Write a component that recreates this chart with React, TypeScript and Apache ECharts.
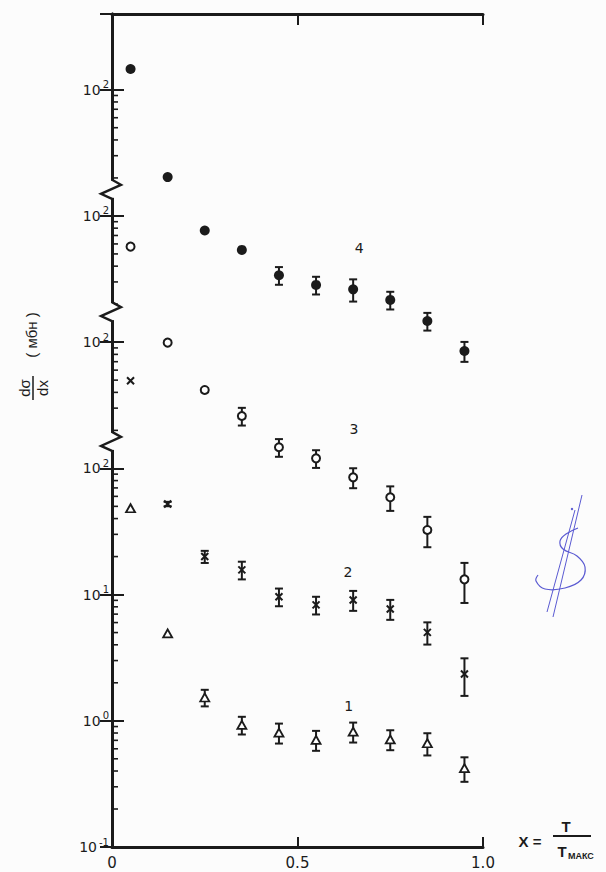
import React, { useEffect, useRef } from "react";
import * as echarts from "echarts";

// ---- data (values as plotted on the continuous, shifted log axis) ----
const xCenters = [0.05, 0.15, 0.25, 0.35, 0.45, 0.55, 0.65, 0.75, 0.85, 0.95];

const curve1 = [48.3, 4.93, 1.53, 0.927, 0.805, 0.705, 0.82, 0.713, 0.664, 0.421];
const curve1Err = [0, 0, 0.15, 0.16, 0.18, 0.18, 0.18, 0.18, 0.2, 0.22];
const curve2 = [495, 52.2, 20.0, 15.7, 9.62, 8.28, 9.06, 7.69, 5.02, 2.35];
const curve2Err = [0, 0.04, 0.11, 0.16, 0.16, 0.16, 0.18, 0.18, 0.2, 0.33];
const curve3 = [5710, 991, 418, 260, 147, 120, 84.9, 59.0, 32.5, 13.2];
const curve3Err = [0, 0, 0, 0.16, 0.16, 0.16, 0.18, 0.22, 0.27, 0.35];
const curve4 = [146000, 20300, 7660, 5380, 3390, 2840, 2620, 2160, 1470, 851];
const curve4Err = [0, 0, 0, 0, 0.16, 0.16, 0.2, 0.16, 0.16, 0.18];

const curveNames = ["1", "2", "3", "4"];
const curveLabelX = [0.638, 0.636, 0.652, 0.666];
const curveLabelY = [1.31, 15.1, 205, 5570];

const xTickLabels = ["0", "0.5", "1.0"];
const yTickExponents = ["-1", "0", "1", "2", "2", "2", "2"]; // decades -1 .. 5
const breakValues = [162, 1730, 16100];
const yMin = 0.1;
const yMax = 398000;
const minorTickTop = 100000;

const INK = "#1b1b1b";
const FONT = "Liberation Sans";
const TICKFONT = "DejaVu Sans";

function minorTickValues(): number[] {
  const out: number[] = [];
  for (let d = -1; d <= 5; d++) {
    for (let m = 2; m <= 9; m++) {
      const v = m * Math.pow(10, d);
      if (v < minorTickTop) out.push(v);
    }
  }
  return out;
}

function errData(vals: number[], errs: number[]) {
  const out: number[][] = [];
  vals.forEach((v, i) => {
    if (errs[i] > 0) out.push([xCenters[i], v * (1 - errs[i]), v * (1 + errs[i])]);
  });
  return out;
}

function errSeries(vals: number[], errs: number[]) {
  return {
    type: "custom",
    silent: true,
    z: 2,
    clip: false,
    encode: { x: 0, y: [1, 2] },
    renderItem: (params: any, api: any) => {
      const x = api.value(0);
      const pLo = api.coord([x, api.value(1)]);
      const pHi = api.coord([x, api.value(2)]);
      const c = 4;
      const st = { stroke: INK, lineWidth: 2 };
      return {
        type: "group",
        children: [
          { type: "line", shape: { x1: pLo[0], y1: pLo[1], x2: pHi[0], y2: pHi[1] }, style: st },
          { type: "line", shape: { x1: pLo[0] - c, y1: pLo[1], x2: pLo[0] + c, y2: pLo[1] }, style: st },
          { type: "line", shape: { x1: pHi[0] - c, y1: pHi[1], x2: pHi[0] + c, y2: pHi[1] }, style: st },
        ],
      };
    },
    data: errData(vals, errs),
  };
}

function pts(vals: number[]) {
  return vals.map((v, i) => [xCenters[i], v]);
}

const centered = { align: "center", verticalAlign: "middle", textAlign: "center", textVerticalAlign: "middle" };

export default function App() {
  const ref = useRef<HTMLDivElement>(null);

  useEffect(() => {
    if (!ref.current) return;
    const chart = echarts.init(ref.current, undefined, { renderer: "svg" });

    const logAxisBase = {
      type: "log",
      logBase: 10,
      min: yMin,
      max: yMax,
      splitNumber: 6,
      splitLine: { show: false },
      axisLine: { show: true, lineStyle: { color: INK, width: 3 } },
    };

    const option: any = {
      animation: false,
      backgroundColor: "#fcfcfc",
      textStyle: { fontFamily: FONT },
      grid: { left: 112, right: 123, top: 14, bottom: 25, containLabel: false },
      xAxis: [
        {
          type: "value",
          position: "bottom",
          min: 0,
          max: 1,
          interval: 0.5,
          splitLine: { show: false },
          axisLine: { show: true, onZero: false, lineStyle: { color: INK, width: 3 } },
          axisTick: { show: true, inside: true, length: 10, lineStyle: { color: INK, width: 2 } },
          axisLabel: {
            show: true,
            margin: 8,
            fontSize: 15,
            color: INK,
            fontFamily: TICKFONT,
            formatter: (v: number) => {
              const i = Math.round(v / 0.5);
              return xTickLabels[i] ?? "";
            },
          },
        },
        {
          type: "value",
          position: "top",
          min: 0,
          max: 1,
          interval: 0.5,
          splitLine: { show: false },
          axisLine: { show: true, onZero: false, lineStyle: { color: INK, width: 3 } },
          axisTick: { show: true, inside: true, length: 11, lineStyle: { color: INK, width: 2 } },
          axisLabel: { show: false },
        },
      ],
      yAxis: [
        {
          ...logAxisBase,
          position: "left",
          axisTick: { show: true, inside: true, length: 12, lineStyle: { color: INK, width: 2 } },
          axisLabel: {
            show: true,
            margin: 3,
            color: INK,
            formatter: (v: number) => {
              const l = Math.log10(v);
              const r = Math.round(l);
              if (Math.abs(l - r) > 1e-6) return "";
              const e = yTickExponents[r + 1];
              if (e === undefined) return "";
              return `{b|10}{s|${e}}`;
            },
            rich: {
              b: { fontSize: 14, lineHeight: 20, color: INK, fontFamily: TICKFONT },
              s: { fontSize: 10, verticalAlign: "top", color: INK, fontFamily: TICKFONT, padding: [0, 0, 0, 2] },
            },
          },
        },
        {
          ...logAxisBase,
          position: "right",
          axisTick: { show: true, inside: true, length: 12, lineStyle: { color: INK, width: 2 } },
          axisLabel: { show: false },
        },
      ],
      series: [
        // minor log ticks on left axis
        {
          type: "custom",
          silent: true,
          clip: false,
          z: 1,
          encode: { x: 0, y: 1 },
          renderItem: (params: any, api: any) => {
            const p = api.coord([0, api.value(1)]);
            return {
              type: "line",
              shape: { x1: p[0], y1: p[1], x2: p[0] + 6, y2: p[1] },
              style: { stroke: INK, lineWidth: 1.6 },
            };
          },
          data: minorTickValues().map((v) => [0, v]),
        },
        // axis breaks
        {
          type: "custom",
          silent: true,
          clip: false,
          z: 5,
          encode: { x: 0, y: 1 },
          renderItem: (params: any, api: any) => {
            const p = api.coord([0, api.value(1)]);
            const ax = p[0];
            const y = p[1];
            return {
              type: "group",
              children: [
                { type: "rect", shape: { x: ax - 2.5, y: y - 9, width: 5, height: 17 }, style: { fill: "#fcfcfc" } },
                {
                  type: "polyline",
                  shape: { points: [[ax, y - 10], [ax + 9, y - 5], [ax - 11, y + 4], [ax, y + 9]] },
                  style: { stroke: INK, lineWidth: 2.4, fill: "none" },
                },
              ],
            };
          },
          data: breakValues.map((v) => [0, v]),
        },
        errSeries(curve1, curve1Err),
        errSeries(curve2, curve2Err),
        errSeries(curve3, curve3Err),
        errSeries(curve4, curve4Err),
        {
          type: "scatter",
          z: 4,
          silent: true,
          symbol: "triangle",
          symbolSize: [9, 8],
          itemStyle: { color: "#ffffff", borderColor: INK, borderWidth: 1.8, opacity: 1 },
          data: pts(curve1),
        },
        {
          type: "scatter",
          z: 4,
          silent: true,
          symbol: "path://M0,0L10,10M10,0L0,10",
          symbolSize: 7,
          itemStyle: { color: "rgba(0,0,0,0)", borderColor: INK, borderWidth: 2, opacity: 1 },
          data: pts(curve2),
        },
        {
          type: "scatter",
          z: 4,
          silent: true,
          symbol: "circle",
          symbolSize: 8,
          itemStyle: { color: "#ffffff", borderColor: INK, borderWidth: 2, opacity: 1 },
          data: pts(curve3),
        },
        {
          type: "scatter",
          z: 4,
          silent: true,
          symbol: "circle",
          symbolSize: 10,
          itemStyle: { color: INK, opacity: 1 },
          data: pts(curve4),
        },
        // curve number labels
        {
          type: "custom",
          silent: true,
          z: 4,
          encode: { x: 0, y: 1 },
          renderItem: (params: any, api: any) => {
            const p = api.coord([api.value(0), api.value(1)]);
            return {
              type: "text",
              x: p[0],
              y: p[1],
              style: {
                text: curveNames[params.dataIndex],
                fontSize: 14,
                fill: INK,
                fontFamily: TICKFONT,
                ...centered,
              },
            };
          },
          data: curveNames.map((n, i) => [curveLabelX[i], curveLabelY[i]]),
        },
      ],
      graphic: [
        {
          type: "group",
          x: 33,
          y: 355,
          rotation: Math.PI / 2,
          children: [
            {
              type: "text",
              x: -33,
              y: -9,
              style: { text: "dσ", fontSize: 15, fill: INK, fontFamily: FONT, ...centered },
            },
            {
              type: "line",
              shape: { x1: -45, y1: 0, x2: -21, y2: 0 },
              style: { stroke: INK, lineWidth: 1.5 },
            },
            {
              type: "text",
              x: -33,
              y: 9,
              style: { text: "dx", fontSize: 15, fill: INK, fontFamily: FONT, ...centered },
            },
            {
              type: "text",
              x: 20,
              y: -2,
              style: { text: "( мбн )", fontSize: 15, fill: INK, fontFamily: FONT, ...centered },
            },
          ],
        },
        {
          type: "text",
          x: 530,
          y: 841,
          style: { text: "X =", fontSize: 15, fill: INK, fontFamily: FONT, fontWeight: "bold", ...centered },
        },
        {
          type: "text",
          x: 566,
          y: 826,
          style: { text: "T", fontSize: 15, fill: INK, fontFamily: FONT, fontWeight: "bold", ...centered },
        },
        {
          type: "line",
          shape: { x1: 553, y1: 836, x2: 591, y2: 836 },
          style: { stroke: INK, lineWidth: 1.8 },
        },
        {
          type: "text",
          x: 562,
          y: 851,
          style: { text: "T", fontSize: 15, fill: INK, fontFamily: FONT, fontWeight: "bold", ...centered },
        },
        {
          type: "text",
          x: 568,
          y: 856,
          style: { text: "МАКС", fontSize: 9, fill: INK, fontFamily: FONT, fontWeight: "bold", align: "left", verticalAlign: "middle", textAlign: "left", textVerticalAlign: "middle" },
        },
        // handwritten blue mark
        {
          type: "polyline",
          shape: { points: [[582, 495], [553, 617]] },
          style: { stroke: "#5a5ad2", lineWidth: 1, fill: "none" },
        },
        {
          type: "polyline",
          shape: { points: [[575, 510], [547, 612]] },
          style: { stroke: "#5a5ad2", lineWidth: 1, fill: "none" },
        },
        {
          type: "polyline",
          shape: {
            smooth: 0.4,
            points: [[578, 528], [566, 534], [560, 541], [563, 549], [577, 556], [585, 567], [581, 580], [565, 588], [545, 589], [536, 581], [538, 575]],
          },
          style: { stroke: "#5a5ad2", lineWidth: 1.2, fill: "none" },
        },
        {
          type: "circle",
          shape: { cx: 572, cy: 509, r: 1.2 },
          style: { fill: "#5a5ad2" },
        },
      ],
    };

    chart.setOption(option);
    return () => chart.dispose();
  }, []);

  return (
    <div
      ref={ref}
      style={{ position: "fixed", left: 0, top: 0, width: 606, height: 872 }}
    />
  );
}
